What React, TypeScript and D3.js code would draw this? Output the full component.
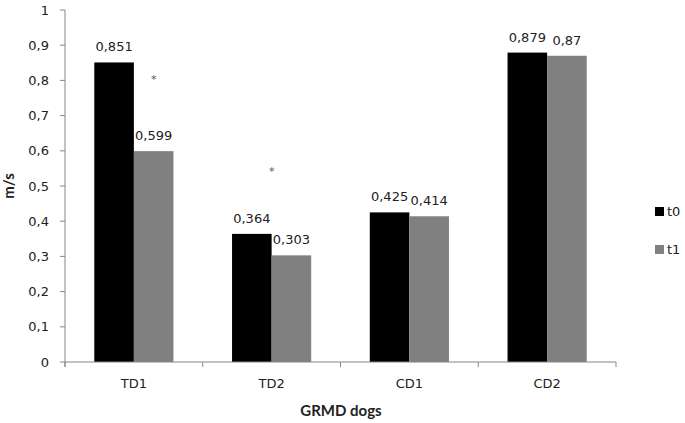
import React from "react";
import * as d3 from "d3";

const categories = ["TD1", "TD2", "CD1", "CD2"];
const seriesNames = ["t0", "t1"];
const t0Values = [0.851, 0.364, 0.425, 0.879];
const t1Values = [0.599, 0.303, 0.414, 0.87];
const yTicks = [0, 0.1, 0.2, 0.3, 0.4, 0.5, 0.6, 0.7, 0.8, 0.9, 1];
// significance markers: category, y value, position inside group (in bar widths)
const starCategories = ["TD1", "TD2"];
const starValues = [0.8125, 0.551];
const starOffsets = [1.5, 1.0];

const colors = ["#000000", "#808080"];
const fmt = (v: number) => String(v).replace(".", ",");

export default function App() {
  const W = 685, H = 423;
  const left = 65, right = 616, top = 10, bottom = 362;
  const x = d3.scaleBand<string>().domain(categories).range([left, right]);
  const x1 = d3.scaleBand<string>().domain(seriesNames).range([0, x.bandwidth()]).paddingOuter(0.74);
  const y = d3.scaleLinear().domain([0, 1]).range([bottom, top]);
  const series = [t0Values, t1Values];
  const font = "'DejaVu Sans', Verdana, sans-serif";
  const titleFont = "Lato, 'Open Sans', sans-serif";
  const axisColor = "#868686";
  const bounds = [left, ...categories.map((c) => (x(c) as number) + x.bandwidth())];

  return (
    <svg width={W} height={H} style={{ position: "absolute", left: 0, top: 0 }} fontFamily={font}>
      <rect x={0} y={0} width={W} height={H} fill="#fff" />
      {/* bars */}
      {series.map((vals, si) =>
        vals.map((v, i) => {
          const bx = (x(categories[i]) as number) + (x1(seriesNames[si]) as number);
          return (
            <g key={`${si}-${i}`}>
              <rect x={bx} y={y(v)} width={x1.bandwidth()} height={bottom - y(v)} fill={colors[si]} />
              <text x={bx + x1.bandwidth() / 2} y={y(v) - 11} textAnchor="middle" fontSize={13} fill="#222">
                {fmt(v)}
              </text>
            </g>
          );
        })
      )}
      {/* stars */}
      {starCategories.map((c, i) => (
        <text
          key={c}
          x={(x(c) as number) + (x1("t0") as number) + starOffsets[i] * x1.bandwidth()}
          y={y(starValues[i]) + 6.5}
          textAnchor="middle"
          fontSize={11}
          fill="#555"
        >
          *
        </text>
      ))}
      {/* y axis */}
      <line x1={left} x2={left} y1={top} y2={bottom + 5} stroke={axisColor} />
      {yTicks.map((t) => (
        <g key={t}>
          <line x1={left - 5} x2={left} y1={y(t)} y2={y(t)} stroke={axisColor} />
          <text x={49} y={y(t) + 4.5} textAnchor="end" fontSize={13} fill="#222">
            {fmt(t)}
          </text>
        </g>
      ))}
      {/* x axis */}
      <line x1={left} x2={right} y1={bottom} y2={bottom} stroke={axisColor} />
      {bounds.map((b, i) => (
        <line key={i} x1={b} x2={b} y1={bottom} y2={bottom + 5} stroke={axisColor} />
      ))}
      {categories.map((c) => (
        <text key={c} x={(x(c) as number) + x.bandwidth() / 2} y={388} textAnchor="middle" fontSize={13} fill="#222">
          {c}
        </text>
      ))}
      <text x={341} y={416} textAnchor="middle" fontSize={15} fontWeight="bold" fill="#222" fontFamily={titleFont}>
        GRMD dogs
      </text>
      <text
        transform={`translate(14, ${(top + bottom) / 2}) rotate(-90)`}
        textAnchor="middle"
        fontSize={15}
        fontWeight="bold"
        fill="#222"
        fontFamily={titleFont}
      >
        m/s
      </text>
      {/* legend */}
      {seriesNames.map((s, i) => (
        <g key={s}>
          <rect x={655} y={207 + i * 38} width={9} height={9} fill={colors[i]} />
          <text x={667} y={216 + i * 38} fontSize={13} fill="#222">
            {s}
          </text>
        </g>
      ))}
    </svg>
  );
}
